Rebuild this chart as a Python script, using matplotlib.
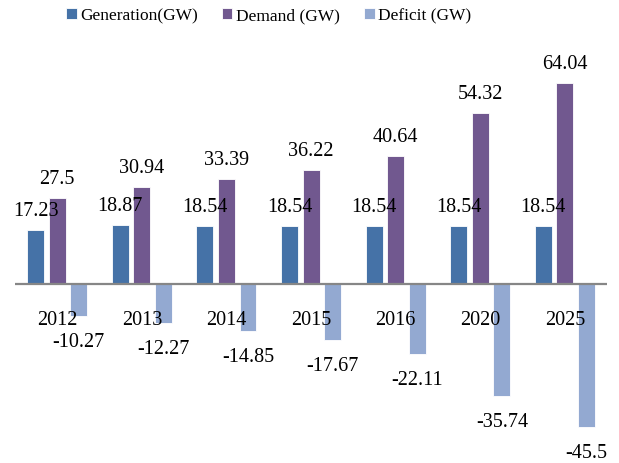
import matplotlib.pyplot as plt
import numpy as np

plt.rcParams['font.family'] = ['Liberation Serif', 'DejaVu Serif']

years = ['2012', '2013', '2014', '2015', '2016', '2020', '2025']
generation = [17.23, 18.87, 18.54, 18.54, 18.54, 18.54, 18.54]
demand = [27.5, 30.94, 33.39, 36.22, 40.64, 54.32, 64.04]
deficit = [-10.27, -12.27, -14.85, -17.67, -22.11, -35.74, -45.5]

colors = ['#4572A7', '#71588F', '#93A9D1']
labels = ['Generation(GW)', 'Demand (GW)', 'Deficit (GW)']

fig = plt.figure(figsize=(6.19, 4.64), dpi=100)
ax = fig.add_axes([0.024, 0.0086, 0.957, 0.905])

x = np.arange(len(years))
w = 0.2
off = 0.255
fs = 14.5
series = [generation, demand, deficit]
for i, vals in enumerate(series):
    pos = x + (i - 1) * off
    ax.bar(pos, vals, width=w, color=colors[i], edgecolor='white',
           linewidth=0.6, label=labels[i], zorder=2)
    for px, v in zip(pos, vals):
        txt = ('%g' % v)
        if v >= 0:
            ax.annotate(txt, (px, v), xytext=(0, 10), textcoords='offset pixels',
                        ha='center', va='bottom', fontsize=fs)
        else:
            ax.annotate(txt, (px, v), xytext=(0, -16), textcoords='offset pixels',
                        ha='center', va='top', fontsize=fs)

ax.axhline(0, color='#868686', linewidth=1.6, zorder=3)
ax.set_xlim(-0.5, len(years) - 0.5)
ax.set_ylim(-55.7, 78)
ax.set_xticks([])
ax.set_yticks([])
for s in ax.spines.values():
    s.set_visible(False)

# year labels sit just under the zero line
for xi, yr in zip(x, years):
    ax.annotate(yr, (xi, 0), xytext=(0, -26), textcoords='offset pixels',
                ha='center', va='top', fontsize=fs)

fig.legend(loc='center', bbox_to_anchor=(0.434, 0.965), ncol=3, frameon=False,
           fontsize=12.5, handlelength=0.6, handleheight=0.6, handletextpad=0.2,
           columnspacing=1.4)

fig.savefig('out.png', dpi=100)
